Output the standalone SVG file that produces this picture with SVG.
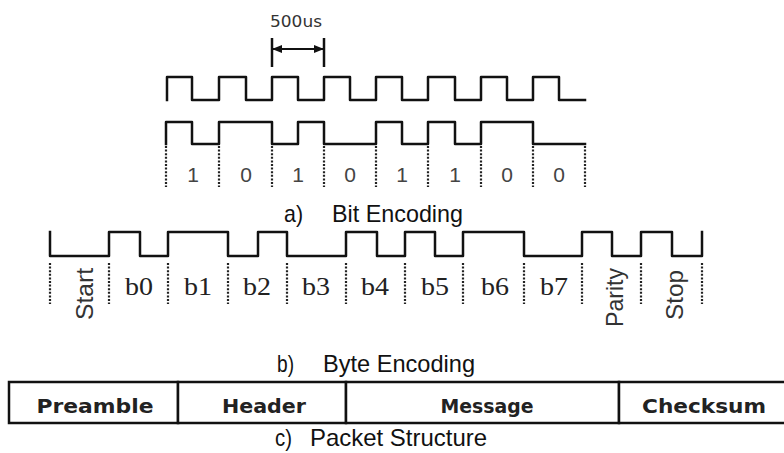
<svg xmlns="http://www.w3.org/2000/svg" width="784" height="453" viewBox="0 0 784 453">
<defs>
<style>
.wave{fill:none;stroke:#111;stroke-width:2.5;stroke-linejoin:round;stroke-linecap:square}
.dot{stroke:#222;stroke-width:2.2;stroke-dasharray:2 1.6}
.cap{font-family:"Liberation Sans",Arial,sans-serif;font-size:24px;fill:#111}
.digit{font-family:"Liberation Sans",Arial,sans-serif;font-size:21px;fill:#444;text-anchor:middle}
.bl{font-family:"Liberation Serif","Times New Roman",serif;font-size:25px;fill:#222;text-anchor:middle}
.rot{font-family:"Liberation Sans",Arial,sans-serif;font-size:24px;fill:#333}
.cell{fill:#fff;stroke:#111;stroke-width:2.5}
.ct{font-family:"DejaVu Sans",Verdana,sans-serif;font-weight:bold;font-size:20px;fill:#222;text-anchor:middle}
.tick{stroke:#111;stroke-width:2.5}
</style>
<marker id="ah" markerWidth="10" markerHeight="8" refX="9" refY="4" orient="auto-start-reverse" markerUnits="userSpaceOnUse">
<path d="M0,0 L10,4 L0,8 Z" fill="#111"/>
</marker>
</defs>
<rect width="784" height="453" fill="#fff"/>

<g id="timing">
<text x="270" y="27" font-family="DejaVu Sans, Verdana, sans-serif" font-size="15" fill="#333" textLength="52" lengthAdjust="spacingAndGlyphs">500us</text>
<line class="tick" x1="272" y1="38" x2="272" y2="67"/>
<line class="tick" x1="324" y1="38" x2="324" y2="67"/>
</g>

<g id="connectors">
<line x1="273" y1="49" x2="323" y2="49" stroke="#111" stroke-width="2" marker-start="url(#ah)" marker-end="url(#ah)"/>
</g>

<g id="bit-encoding">
<path class="wave" d="M167,100 V77 H192 V100 H219 V77 H246 V100 H272 V77 H298 V100 H324 V77 H350 V100 H376 V77 H402 V100 H428 V77 H455 V100 H481 V77 H507 V100 H533 V77 H559 V100 H585"/>
<path class="wave" d="M166,144 V122 H192 V144 H219 V122 H272 V144 H298 V122 H324 V144 H376 V122 H402 V144 H428 V122 H455 V144 H481 V122 H533 V144 H585"/>
<g>
<line class="dot" x1="166" y1="146" x2="166" y2="187"/>
<line class="dot" x1="219" y1="146" x2="219" y2="187"/>
<line class="dot" x1="272" y1="146" x2="272" y2="187"/>
<line class="dot" x1="324" y1="146" x2="324" y2="187"/>
<line class="dot" x1="376" y1="146" x2="376" y2="187"/>
<line class="dot" x1="428" y1="146" x2="428" y2="187"/>
<line class="dot" x1="481" y1="146" x2="481" y2="187"/>
<line class="dot" x1="533" y1="146" x2="533" y2="187"/>
<line class="dot" x1="585" y1="146" x2="585" y2="187"/>
</g>
<text class="digit" x="193" y="182">1</text>
<text class="digit" x="246" y="182">0</text>
<text class="digit" x="298" y="182">1</text>
<text class="digit" x="350" y="182">0</text>
<text class="digit" x="402" y="182">1</text>
<text class="digit" x="455" y="182">1</text>
<text class="digit" x="507" y="182">0</text>
<text class="digit" x="559" y="182">0</text>
<text class="cap" x="284" y="222" textLength="19" lengthAdjust="spacingAndGlyphs">a)</text>
<text class="cap" x="332" y="222" textLength="131" lengthAdjust="spacingAndGlyphs">Bit Encoding</text>
</g>

<g id="byte-encoding">
<path class="wave" d="M50,232 V256 H109 V232 H140 V256 H168 V232 H228 V256 H258 V232 H287 V256 H346 V232 H377 V256 H405 V232 H435 V256 H463 V232 H524 V256 H582 V232 H612 V256 H641 V232 H672 V256 H702 V232"/>
<g>
<line class="dot" x1="50" y1="263" x2="50" y2="304"/>
<line class="dot" x1="109" y1="263" x2="109" y2="304"/>
<line class="dot" x1="168" y1="263" x2="168" y2="304"/>
<line class="dot" x1="228" y1="263" x2="228" y2="304"/>
<line class="dot" x1="287" y1="263" x2="287" y2="304"/>
<line class="dot" x1="346" y1="263" x2="346" y2="304"/>
<line class="dot" x1="405" y1="263" x2="405" y2="304"/>
<line class="dot" x1="463" y1="263" x2="463" y2="304"/>
<line class="dot" x1="524" y1="263" x2="524" y2="304"/>
<line class="dot" x1="582" y1="263" x2="582" y2="304"/>
<line class="dot" x1="641" y1="263" x2="641" y2="304"/>
<line class="dot" x1="702" y1="263" x2="702" y2="304"/>
</g>
<text class="rot" transform="translate(93,320) rotate(-90)" textLength="52" lengthAdjust="spacingAndGlyphs">Start</text>
<text class="bl" x="139" y="295" textLength="28" lengthAdjust="spacingAndGlyphs">b0</text>
<text class="bl" x="198" y="295" textLength="28" lengthAdjust="spacingAndGlyphs">b1</text>
<text class="bl" x="257" y="295" textLength="28" lengthAdjust="spacingAndGlyphs">b2</text>
<text class="bl" x="316" y="295" textLength="28" lengthAdjust="spacingAndGlyphs">b3</text>
<text class="bl" x="375" y="295" textLength="28" lengthAdjust="spacingAndGlyphs">b4</text>
<text class="bl" x="435" y="295" textLength="28" lengthAdjust="spacingAndGlyphs">b5</text>
<text class="bl" x="495" y="295" textLength="28" lengthAdjust="spacingAndGlyphs">b6</text>
<text class="bl" x="554" y="295" textLength="28" lengthAdjust="spacingAndGlyphs">b7</text>
<text class="rot" transform="translate(623,327) rotate(-90)" textLength="59" lengthAdjust="spacingAndGlyphs">Parity</text>
<text class="rot" transform="translate(683,320) rotate(-90)" textLength="50" lengthAdjust="spacingAndGlyphs">Stop</text>
<text class="cap" x="277" y="372" textLength="17" lengthAdjust="spacingAndGlyphs">b)</text>
<text class="cap" x="323" y="372" textLength="152" lengthAdjust="spacingAndGlyphs">Byte Encoding</text>
</g>

<g id="packet">
<g id="cell-preamble">
<rect class="cell" x="9" y="382" width="169" height="41"/>
<text class="ct" x="95" y="413" textLength="117" lengthAdjust="spacingAndGlyphs">Preamble</text>
</g>
<g id="cell-header">
<rect class="cell" x="178" y="382" width="168" height="41"/>
<text class="ct" x="264" y="413" textLength="84" lengthAdjust="spacingAndGlyphs">Header</text>
</g>
<g id="cell-message">
<rect class="cell" x="346" y="382" width="273" height="41"/>
<text class="ct" x="487" y="413" textLength="93" lengthAdjust="spacingAndGlyphs">Message</text>
</g>
<g id="cell-checksum">
<rect class="cell" x="619" y="382" width="180" height="41"/>
<text class="ct" x="704" y="413" textLength="124" lengthAdjust="spacingAndGlyphs">Checksum</text>
</g>
<text class="cap" x="275" y="446" textLength="17" lengthAdjust="spacingAndGlyphs">c)</text>
<text class="cap" x="310" y="446" textLength="177" lengthAdjust="spacingAndGlyphs">Packet Structure</text>
</g>
</svg>
